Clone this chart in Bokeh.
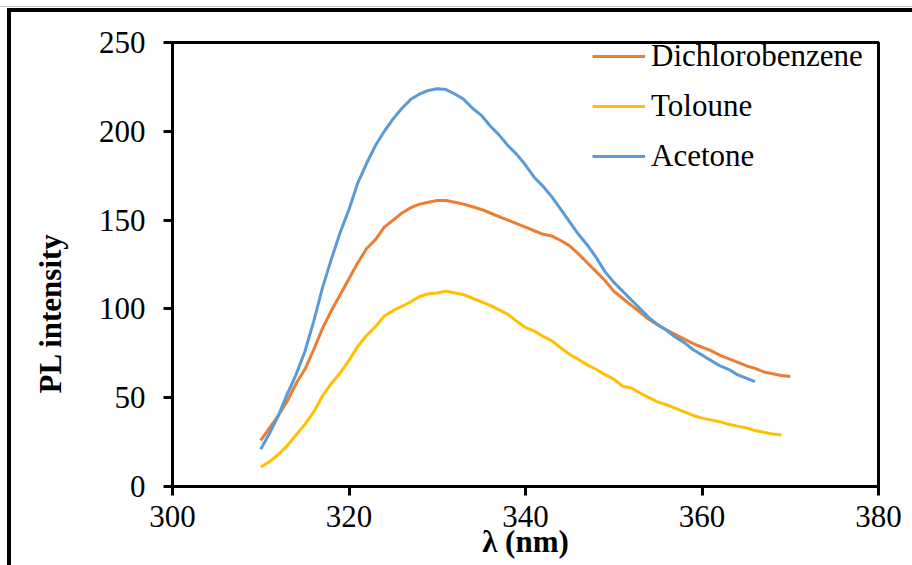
from bokeh.plotting import figure
from bokeh.models import FixedTicker, Legend, LegendItem, Title
from bokeh.embed import file_html
from bokeh.resources import INLINE

# ---------------- data ----------------
wl_acetone = list(range(310, 367))
acetone = [21, 30, 40, 52, 63, 76, 93, 112, 128, 143, 156, 171, 182, 192, 200,
           207, 213, 218, 221, 223, 224, 223.5, 221, 218, 213, 209, 203, 198, 192,
           187, 181, 174, 169, 163, 156, 149, 142, 136, 129, 121, 115, 110, 105,
           100, 95, 91, 88, 84, 81, 77, 74, 71, 68, 66, 63, 61, 59]

wl_dcb = list(range(310, 371))
dichlorobenzene = [26, 33, 40, 48, 58, 66, 77, 89, 99, 108, 117, 126, 134, 139,
                   146, 150, 154, 157, 159, 160, 161, 161, 160, 159, 157.5, 156,
                   154, 152, 150, 148, 146, 144, 142, 141, 138.5, 135.5, 131, 126,
                   121, 116, 110, 106, 102, 98, 94, 91, 88, 85.5, 83, 80.5, 78.5,
                   76.5, 74, 72, 70, 68, 66.5, 64.5, 63.5, 62.5, 62]

wl_tol = list(range(310, 370))
toloune = [11, 14, 18, 23, 29, 35, 42, 51, 58, 64, 71, 79, 85, 90, 96, 99, 101.5,
           104, 107, 108.5, 109, 110, 109, 108, 106, 104, 102, 99.5, 97, 93, 89.5,
           87.5, 84.5, 82, 78, 74.5, 71.5, 68.5, 66, 63, 60.5, 56.5, 55.5, 52.5,
           50, 47.5, 46, 44, 42, 40, 38.5, 37.5, 36.5, 35, 34, 33, 31.5, 30.5,
           29.5, 29]

series_names = ["Dichlorobenzene", "Toloune", "Acetone"]
x_ticks = [300, 320, 340, 360, 380]
y_ticks = [0, 50, 100, 150, 200, 250]
x_label = "λ (nm)"
y_label = "PL intensity"

# ---------------- styling ----------------
FONT = "Liberation Serif"
colors = {"Dichlorobenzene": "#ED7D31", "Toloune": "#FFC000", "Acetone": "#5B9BD5"}

p = figure(width=912, height=565, x_range=(300, 380), y_range=(0, 250),
           output_backend="svg", toolbar_location=None,
           min_border_left=172, min_border_right=34, min_border_top=42,
           min_border_bottom=79)
# outer page frame (left and top rules) drawn behind the transparent canvas border
p.styles = {
    "background": ("linear-gradient(#000,#000) 7px 8px / 4px 600px no-repeat, "
                   "linear-gradient(#000,#000) 7px 8px / 950px 4px no-repeat, "
                   "linear-gradient(#c4c4c4,#c4c4c4) 0px 6px / 950px 1px no-repeat, "
                   "#ffffff"),
}

p.background_fill_color = "white"
p.border_fill_color = None
p.outline_line_color = "black"
p.outline_line_width = 3
p.xgrid.visible = False
p.ygrid.visible = False

for ax, ticks in ((p.xaxis, x_ticks), (p.yaxis, y_ticks)):
    ax.ticker = FixedTicker(ticks=ticks)
    ax.axis_line_color = "black"
    ax.axis_line_width = 3
    ax.major_tick_line_color = "black"
    ax.major_tick_line_width = 3
    ax.major_tick_out = 9
    ax.major_tick_in = 0
    ax.minor_tick_line_color = None
    ax.major_label_text_font = FONT
    ax.major_label_text_font_size = "31px"
    ax.major_label_text_color = "black"
p.xaxis.major_label_standoff = 10
p.yaxis.major_label_standoff = 18

p.xaxis.axis_label = x_label
p.xaxis.axis_label_text_font = FONT
p.xaxis.axis_label_text_font_size = "31px"
p.xaxis.axis_label_text_font_style = "bold"
p.xaxis.axis_label_text_color = "black"
p.xaxis.axis_label_standoff = -6

r_dcb = p.line(wl_dcb, dichlorobenzene, line_color=colors["Dichlorobenzene"], line_width=3)
r_tol = p.line(wl_tol, toloune, line_color=colors["Toloune"], line_width=3)
r_ace = p.line(wl_acetone, acetone, line_color=colors["Acetone"], line_width=3)

legend = Legend(items=[LegendItem(label=series_names[0], renderers=[r_dcb]),
                       LegendItem(label=series_names[1], renderers=[r_tol]),
                       LegendItem(label=series_names[2], renderers=[r_ace])],
                location=(420, 312))
legend.label_text_font = FONT
legend.label_text_font_size = "31px"
legend.label_text_color = "black"
legend.label_height = 26
legend.glyph_height = 26
legend.glyph_width = 53
legend.label_standoff = 6
legend.spacing = 14
legend.padding = 0
legend.margin = 0
legend.border_line_color = None
legend.background_fill_alpha = 0
p.add_layout(legend)

ytitle = Title(text=y_label, align="left", offset=93, text_font=FONT,
               text_font_size="31px", text_font_style="bold", text_color="black",
               standoff=55)
p.add_layout(ytitle, "left")

open("out.html", "w").write(file_html(p, INLINE))
